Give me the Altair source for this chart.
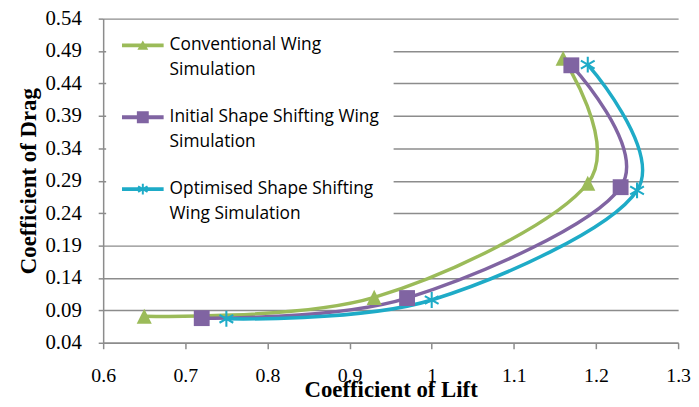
import math
import altair as alt
import pandas as pd

# ---------------- data ----------------
series = [
    "Conventional Wing|Simulation",
    "Initial Shape Shifting Wing|Simulation",
    "Optimised Shape Shifting|Wing Simulation",
]
colors = ["#9BBB59", "#8064A2", "#1EABC7"]

conv_cl = [0.65, 0.93, 1.19, 1.16]
conv_cd = [0.081, 0.110, 0.286, 0.479]
init_cl = [0.72, 0.97, 1.23, 1.17]
init_cd = [0.078, 0.109, 0.280, 0.468]
opt_cl = [0.75, 1.00, 1.25, 1.19]
opt_cd = [0.077, 0.106, 0.275, 0.469]

x_ticks = [0.6, 0.7, 0.8, 0.9, 1.0, 1.1, 1.2, 1.3]
y_ticks = [0.04, 0.09, 0.14, 0.19, 0.24, 0.29, 0.34, 0.39, 0.44, 0.49, 0.54]

rows = []
for name, cls, cds in zip(series, [conv_cl, init_cl, opt_cl], [conv_cd, init_cd, opt_cd]):
    for i, (a, b) in enumerate(zip(cls, cds)):
        rows.append({"series": name, "cl": a, "cd": b, "idx": i})
df = pd.DataFrame(rows)

# ---------------- marker paths ----------------
def rect(hl, hw, ang, cx=0.0, cy=0.0):
    c, s = math.cos(ang), math.sin(ang)
    pts = [(-hl * c + hw * s, -hl * s - hw * c), (hl * c + hw * s, hl * s - hw * c),
           (hl * c - hw * s, hl * s + hw * c), (-hl * c - hw * s, -hl * s + hw * c)]
    area = sum(pts[i][0] * pts[(i + 1) % 4][1] - pts[(i + 1) % 4][0] * pts[i][1] for i in range(4))
    if area < 0:
        pts = pts[::-1]
    return "M" + "L".join(f"{x + cx:.4f},{y + cy:.4f}" for x, y in pts) + "Z"

def asterisk(hl, hw, cx=0.0):
    return "".join(rect(hl, hw, a, cx) for a in (math.pi / 2, math.pi / 6, -math.pi / 6))

tri_p = "M0,-0.95L0.95,0.95L-0.95,0.95Z"
sq_p = "M-1,-1L1,-1L1,1L-1,1Z"
ast_p = asterisk(1.0, 0.13)
point_shapes = [tri_p, sq_p, ast_p]

# legend symbols (unit = 10px): 42px line with the marker in its middle
MC = 1.3
bar = rect(2.1, 0.2, 0.0, MC)
leg_shapes = [
    bar + f"M{MC},-0.5L{MC + 0.55},0.45L{MC - 0.55},0.45Z",
    bar + f"M{MC - 0.6},-0.6L{MC + 0.6},-0.6L{MC + 0.6},0.6L{MC - 0.6},0.6Z",
    bar + asterisk(0.55, 0.1, MC),
]

GREY = "#8c8c8c"
SERIF = "Liberation Serif"

xs = alt.Scale(domain=[0.6, 1.3], nice=False, zero=False)
ys = alt.Scale(domain=[0.04, 0.54], nice=False, zero=False)
cs = alt.Scale(domain=series, range=colors)

x_axis = alt.Axis(values=x_ticks, tickCount=len(x_ticks), format="~g", title="Coefficient of Lift",
                  grid=False, domainColor=GREY, domainWidth=1.5, tickColor=GREY, tickWidth=1.5,
                  tickSize=6, labelFont=SERIF, labelFontSize=20, labelColor="black",
                  labelPadding=17, labelFlush=False, labelOverlap=False,
                  titleFont=SERIF, titleFontSize=23, titleFontWeight="bold", titleColor="black",
                  titlePadding=-7)
y_axis = alt.Axis(values=y_ticks, tickCount=len(y_ticks), format=".2f", title="Coefficient of Drag",
                  grid=True, gridColor=GREY, gridWidth=1.5,
                  domainColor=GREY, domainWidth=1.5, tickColor=GREY, tickWidth=1.5, tickSize=5,
                  labelFont=SERIF, labelFontSize=21, labelColor="black", labelPadding=17,
                  labelFlush=False, labelOverlap=False,
                  titleFont=SERIF, titleFontSize=23, titleFontWeight="bold", titleColor="black",
                  titlePadding=5)

base = alt.Chart(df)

lines = base.mark_line(interpolate="cardinal", tension=0, strokeWidth=3.5).encode(
    x=alt.X("cl:Q", scale=xs, axis=x_axis),
    y=alt.Y("cd:Q", scale=ys, axis=y_axis),
    color=alt.Color("series:N", scale=cs, legend=None),
    order="idx:Q",
)

points = base.mark_point(filled=True, opacity=1, size=256).encode(
    x=alt.X("cl:Q", scale=xs),
    y=alt.Y("cd:Q", scale=ys),
    color=alt.Color("series:N", scale=cs, legend=None),
    shape=alt.Shape("series:N", scale=alt.Scale(domain=series, range=point_shapes), legend=None),
)

legend = alt.Legend(
    orient="none", legendX=3, legendY=3, title=None, fillColor="white", padding=14,
    symbolSize=400, symbolStrokeWidth=0, symbolOpacity=1,
    labelFont="Open Sans", labelFontSize=17.5, labelColor="black", labelOffset=30, labelLimit=400,
    labelExpr="split(datum.label, '|')", rowPadding=28.5,
)

leg_layer = base.transform_filter("false").mark_point(filled=True, opacity=1).encode(
    color=alt.Color("series:N", scale=cs, legend=legend),
    shape=alt.Shape("series:N", scale=alt.Scale(domain=series, range=leg_shapes), legend=legend),
)

chart = (
    alt.layer(lines, points, leg_layer)
    .resolve_scale(color="independent", shape="independent")
    .properties(width=580, height=327, autosize="none",
                padding={"left": 96, "top": 9, "right": 13, "bottom": 55})
    .configure(style={"guide-label": {"lineHeight": 25}}, view=alt.ViewConfig(strokeWidth=0))
)

chart.save("out.html", embed_options={"renderer": "svg", "actions": False})
